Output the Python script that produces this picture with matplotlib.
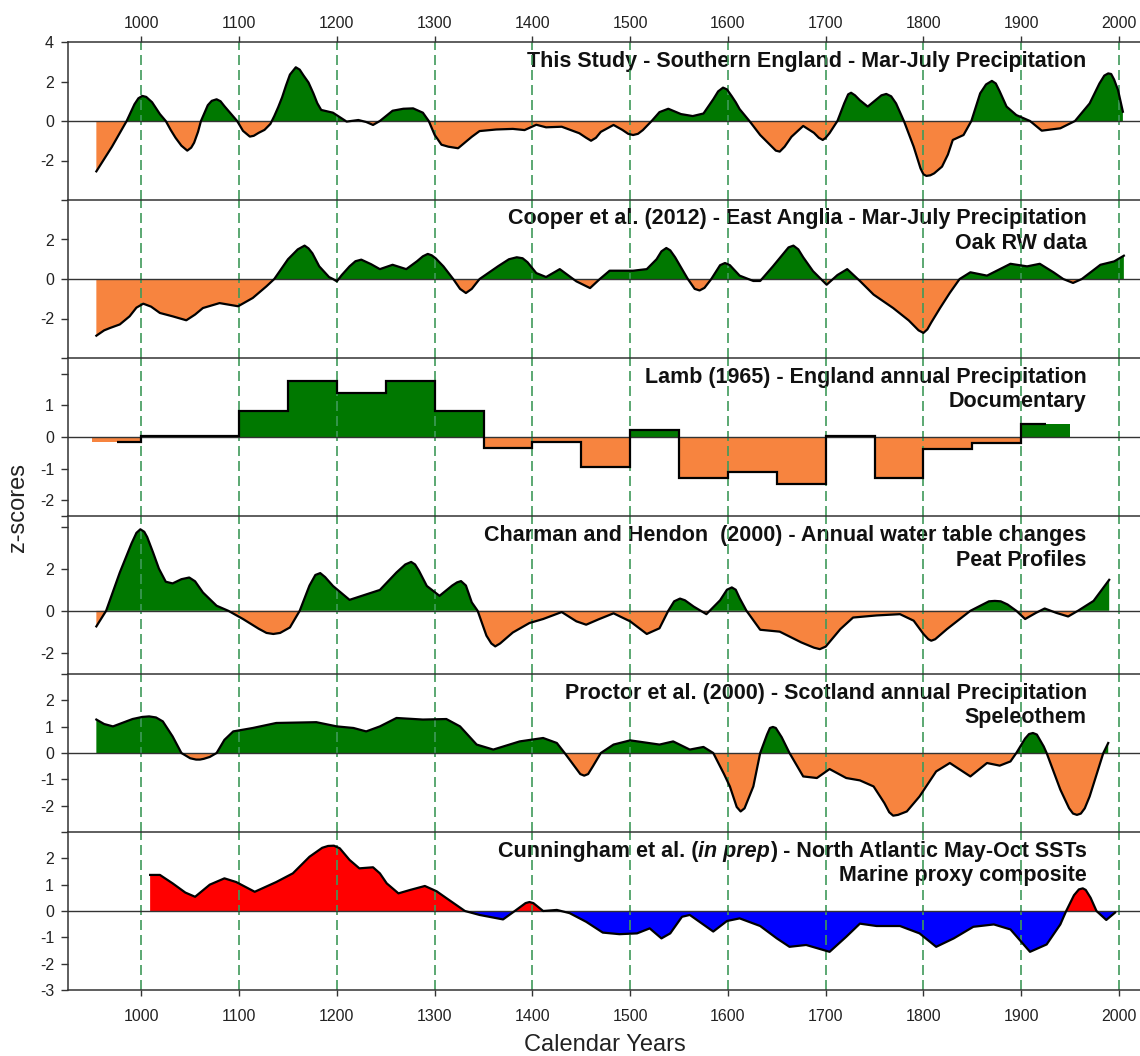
import numpy as np
import matplotlib
matplotlib.use('Agg')
import matplotlib.pyplot as plt
import matplotlib.transforms as mtransforms

plt.rcParams['font.family'] = ['Liberation Sans', 'DejaVu Sans']

# ---- data (year, z-score) ----
study_yr = [954, 970, 985, 993, 997, 1001, 1005, 1011, 1019, 1025, 1030, 1035, 1041, 1047, 1051,
            1054, 1058, 1061, 1068, 1072, 1077, 1081, 1085, 1091, 1098, 1104, 1111, 1115, 1120,
            1126, 1132, 1136, 1140, 1144, 1148, 1152, 1158, 1162, 1166, 1171, 1176, 1180, 1184,
            1196, 1210, 1222, 1230, 1237, 1244, 1257, 1268, 1278, 1288, 1294, 1300, 1307, 1314,
            1324, 1332, 1338, 1346, 1363, 1380, 1392, 1404, 1414, 1430, 1448, 1455, 1460, 1465,
            1470, 1483, 1492, 1498, 1503, 1508, 1513, 1522, 1530, 1539, 1552, 1564, 1575, 1585,
            1590, 1595, 1599, 1604, 1608, 1612, 1622, 1633, 1645, 1649, 1653, 1658, 1665, 1677,
            1688, 1693, 1697, 1700, 1704, 1712, 1719, 1723, 1726, 1730, 1735, 1743, 1752, 1757,
            1762, 1767, 1772, 1780, 1790, 1797, 1800, 1803, 1807, 1811, 1819, 1825, 1830, 1841,
            1849, 1858, 1864, 1870, 1874, 1878, 1885, 1895, 1909, 1921, 1940, 1955, 1970, 1980,
            1985, 1989, 1992, 1995, 1999, 2004]
study_z = [-2.55, -1.3, 0.0, 0.85, 1.15, 1.27, 1.22, 0.95, 0.35, 0.0, -0.45, -0.85, -1.25, -1.5, -1.35,
           -1.1, -0.55, 0.0, 0.8, 1.02, 1.1, 1.0, 0.75, 0.4, 0.0, -0.5, -0.79, -0.75, -0.6,
           -0.45, -0.15, 0.25, 0.7, 1.2, 1.8, 2.35, 2.72, 2.6, 2.3, 1.95, 1.4, 0.9, 0.56,
           0.42, -0.03, 0.05, -0.05, -0.2, 0.0, 0.52, 0.62, 0.64, 0.42, 0.0, -0.7, -1.2, -1.3,
           -1.38, -1.05, -0.8, -0.51, -0.43, -0.4, -0.46, -0.19, -0.32, -0.29, -0.62, -0.85, -1.0, -0.85,
           -0.55, -0.2, -0.45, -0.65, -0.71, -0.65, -0.46, 0.0, 0.45, 0.62, 0.35, 0.25, 0.38, 1.1,
           1.5, 1.69, 1.6, 1.25, 0.95, 0.6, 0.0, -0.71, -1.3, -1.5, -1.55, -1.3, -0.8, -0.25,
           -0.6, -0.85, -0.96, -0.85, -0.61, 0.0, 0.9, 1.35, 1.43, 1.3, 1.05, 0.73, 1.1, 1.3,
           1.37, 1.25, 0.89, 0.0, -1.3, -2.4, -2.7, -2.78, -2.75, -2.65, -2.31, -1.7, -0.96, -0.71,
           0.0, 1.4, 1.85, 2.03, 1.9, 1.5, 0.73, 0.3, 0.0, -0.49, -0.37, 0.0, 0.89, 1.9,
           2.3, 2.41, 2.38, 2.1, 1.57, 0.47]

cooper_yr = [954, 962, 968, 978, 988, 995, 1002, 1010, 1019, 1032, 1046, 1055, 1063, 1080, 1099,
             1114, 1128, 1136, 1150, 1160, 1167, 1171, 1175, 1182, 1192, 1196, 1200, 1205, 1213,
             1219, 1225, 1235, 1244, 1257, 1271, 1282, 1288, 1293, 1297, 1301, 1309, 1319, 1326,
             1332, 1338, 1346, 1365, 1376, 1384, 1390, 1395, 1404, 1414, 1428, 1445, 1459, 1469,
             1479, 1503, 1517, 1527, 1532, 1537, 1541, 1546, 1554, 1559, 1566, 1571, 1576, 1583,
             1592, 1597, 1602, 1612, 1626, 1633, 1646, 1657, 1662, 1667, 1672, 1677, 1687, 1701,
             1712, 1722, 1735, 1749, 1769, 1785, 1795, 1800, 1804, 1808, 1817, 1827, 1837, 1848,
             1865, 1889, 1906, 1919, 1933, 1943, 1953, 1962, 1981, 1995, 2005]
cooper_z = [-2.87, -2.6, -2.48, -2.3, -1.89, -1.45, -1.25, -1.4, -1.72, -1.89, -2.09, -1.8, -1.47, -1.22, -1.38,
            -0.96, -0.37, 0.0, 1.0, 1.5, 1.69, 1.55, 1.3, 0.64, 0.1, 0.0, -0.12, 0.2, 0.64,
            0.9, 0.98, 0.75, 0.5, 0.72, 0.5, 0.9, 1.15, 1.27, 1.2, 1.05, 0.64, 0.0, -0.5,
            -0.71, -0.5, 0.0, 0.65, 1.0, 1.1, 1.05, 0.85, 0.3, 0.1, 0.5, -0.12, -0.46, 0.0,
            0.42, 0.42, 0.5, 1.0, 1.4, 1.57, 1.45, 1.1, 0.42, 0.0, -0.5, -0.58, -0.45, 0.0,
            0.7, 0.81, 0.7, 0.17, -0.1, -0.1, 0.64, 1.3, 1.6, 1.69, 1.5, 1.1, 0.4, -0.29,
            0.2, 0.5, -0.1, -0.79, -1.47, -2.1, -2.6, -2.73, -2.55, -2.2, -1.47, -0.7, 0.0, 0.34,
            0.17, 0.77, 0.64, 0.77, 0.34, 0.0, -0.2, 0.0, 0.72, 0.89, 1.18]

# Lamb (1965): 50-year means, bin start years
lamb_start = [950, 1000, 1050, 1100, 1150, 1200, 1250, 1300, 1350, 1400, 1450, 1500, 1550,
              1600, 1650, 1700, 1750, 1800, 1850, 1900]
lamb_z = [-0.17, 0.03, 0.03, 0.82, 1.77, 1.4, 1.77, 0.82, -0.34, -0.16, -0.94, 0.22, -1.31,
          -1.12, -1.5, 0.03, -1.31, -0.39, -0.18, 0.42]
lamb_line_from, lamb_line_to = 975, 1925

charman_yr = [954, 964, 978, 990, 995, 999, 1003, 1006, 1012, 1018, 1025, 1032, 1041, 1049, 1055,
              1063, 1077, 1089, 1104, 1120, 1128, 1135, 1142, 1152, 1162, 1172, 1178, 1183, 1188,
              1196, 1213, 1244, 1261, 1270, 1276, 1280, 1284, 1292, 1305, 1318, 1323, 1327, 1332,
              1338, 1344, 1353, 1358, 1362, 1367, 1380, 1397, 1411, 1430, 1445, 1455, 1468, 1483,
              1500, 1517, 1530, 1539, 1545, 1551, 1556, 1565, 1578, 1592, 1599, 1604, 1608, 1612,
              1619, 1633, 1653, 1675, 1688, 1694, 1700, 1715, 1728, 1752, 1776, 1790, 1800, 1805,
              1808, 1812, 1824, 1848, 1867, 1873, 1879, 1886, 1895, 1904, 1915, 1924, 1936, 1948,
              1958, 1974, 1990]
charman_z = [-0.74, 0.0, 1.82, 3.2, 3.7, 3.87, 3.75, 3.5, 2.77, 2.0, 1.38, 1.3, 1.5, 1.58, 1.4,
             0.87, 0.24, 0.0, -0.39, -0.85, -1.05, -1.1, -1.05, -0.79, 0.0, 1.2, 1.7, 1.79, 1.6,
             1.18, 0.52, 0.99, 1.82, 2.2, 2.32, 2.2, 1.9, 1.18, 0.71, 1.2, 1.35, 1.41, 1.2,
             0.4, 0.0, -1.18, -1.55, -1.69, -1.55, -1.03, -0.58, -0.39, -0.06, -0.5, -0.66, -0.4, -0.12,
             -0.5, -1.1, -0.83, 0.0, 0.45, 0.58, 0.5, 0.2, -0.16, 0.5, 1.0, 1.11, 1.0, 0.6,
             0.0, -0.9, -0.99, -1.5, -1.75, -1.82, -1.7, -0.87, -0.32, -0.22, -0.16, -0.47, -1.1, -1.35,
             -1.42, -1.35, -0.87, 0.0, 0.45, 0.47, 0.45, 0.3, 0.0, -0.39, -0.1, 0.11, -0.1, -0.27,
             0.0, 0.47, 1.47]

proctor_yr = [954, 962, 971, 981, 991, 1001, 1008, 1015, 1022, 1032, 1041, 1050, 1056, 1060, 1064,
              1070, 1077, 1085, 1094, 1114, 1138, 1179, 1200, 1217, 1230, 1244, 1261, 1288, 1312,
              1326, 1343, 1360, 1387, 1411, 1425, 1433, 1443, 1449, 1453, 1457, 1462, 1470, 1483,
              1500, 1530, 1544, 1561, 1575, 1585, 1596, 1602, 1609, 1613, 1617, 1626, 1633, 1640,
              1643, 1646, 1649, 1655, 1663, 1677, 1691, 1704, 1721, 1735, 1749, 1760, 1765, 1769,
              1774, 1783, 1796, 1813, 1827, 1848, 1865, 1878, 1889, 1895, 1904, 1908, 1912, 1916,
              1923, 1926, 1940, 1949, 1953, 1957, 1961, 1965, 1970, 1984, 1989]
proctor_z = [1.27, 1.1, 1.01, 1.15, 1.29, 1.37, 1.39, 1.35, 1.2, 0.63, 0.0, -0.2, -0.25, -0.25, -0.22,
             -0.15, 0.0, 0.5, 0.82, 0.95, 1.14, 1.17, 1.01, 0.95, 0.82, 1.01, 1.33, 1.27, 1.29,
             1.01, 0.32, 0.13, 0.44, 0.57, 0.38, 0.0, -0.5, -0.8, -0.86, -0.8, -0.5, 0.0, 0.32,
             0.48, 0.32, 0.44, 0.13, 0.23, 0.0, -0.8, -1.27, -2.05, -2.22, -2.1, -1.27, 0.0, 0.7,
             0.95, 0.99, 0.95, 0.6, 0.0, -0.89, -0.95, -0.61, -0.95, -1.04, -1.27, -1.9, -2.25, -2.38,
             -2.35, -2.22, -1.65, -0.7, -0.38, -0.89, -0.38, -0.48, -0.32, 0.0, 0.55, 0.72, 0.76, 0.7,
             0.25, 0.0, -1.39, -2.1, -2.3, -2.35, -2.3, -2.1, -1.65, 0.0, 0.38]

cunn_yr = [1009, 1019, 1032, 1045, 1055, 1070, 1085, 1097, 1116, 1138, 1155, 1172, 1185, 1191,
           1197, 1203, 1213, 1223, 1237, 1244, 1251, 1263, 1275, 1290, 1302, 1312, 1331, 1346,
           1370, 1382, 1393, 1397, 1401, 1411, 1425, 1438, 1455, 1472, 1489, 1507, 1520, 1532,
           1541, 1553, 1561, 1585, 1599, 1612, 1633, 1650, 1663, 1680, 1704, 1721, 1735, 1752,
           1776, 1796, 1813, 1831, 1851, 1872, 1889, 1909, 1926, 1940, 1946, 1954, 1959, 1963,
           1966, 1971, 1977, 1987, 1996]
cunn_z = [1.37, 1.37, 1.05, 0.7, 0.54, 1.0, 1.24, 1.1, 0.73, 1.1, 1.43, 2.06, 2.4, 2.47,
          2.48, 2.38, 1.94, 1.62, 1.66, 1.43, 1.05, 0.67, 0.8, 0.95, 0.75, 0.49, 0.0, -0.15,
          -0.32, 0.0, 0.3, 0.34, 0.3, 0.0, 0.04, -0.08, -0.41, -0.82, -0.88, -0.85, -0.66, -1.04,
          -0.85, -0.22, -0.15, -0.78, -0.38, -0.28, -0.57, -1.04, -1.36, -1.29, -1.55, -0.98, -0.48, -0.57,
          -0.57, -0.85, -1.36, -1.04, -0.6, -0.51, -0.7, -1.55, -1.27, -0.51, 0.0, 0.6, 0.82, 0.86,
          0.8, 0.5, 0.0, -0.34, -0.06]

GREEN = '#007800'
ORANGE = '#f7843f'
RED = '#ff0000'
BLUE = '#0000ff'
GRID = '#3f9a5a'
SPINE = '#333333'

W, H = 1140, 1056
fig = plt.figure(figsize=(W / 100, H / 100), dpi=100)

left_px, top_px, bot_px = 68, 42, 990
ph = (bot_px - top_px) / 6.0
TITLE_X = 1967


def make_axes(i):
    y0 = 1 - (top_px + (i + 1) * ph) / H
    ax = fig.add_axes([left_px / W, y0, 1 - left_px / W, ph / H])
    ax.set_xlim(925, 2021.5)
    ax.set_xticks(range(1000, 2001, 100))
    for s in ['left', 'top', 'bottom']:
        ax.spines[s].set_color(SPINE)
        ax.spines[s].set_linewidth(1.1)
    ax.spines['right'].set_visible(False)
    if i != 5:
        ax.spines['bottom'].set_visible(False)
    ax.tick_params(axis='y', direction='out', length=5, width=1, color=SPINE,
                   labelsize=11.5, pad=5, labelcolor='#222222')
    ax.tick_params(axis='x', direction='out', length=4, width=1, color=SPINE,
                   labelsize=11.5, labelcolor='#222222', top=False, labeltop=False,
                   bottom=False, labelbottom=False)
    for yr in range(1000, 2001, 100):
        ax.axvline(yr, color=GRID, lw=1.2, ls=(0, (6, 3)), zorder=2)
    ax.axhline(0, color=SPINE, lw=1.0, zorder=2.5)
    return ax


def smooth(ax, yrs, vals, pos, neg):
    yrs = np.array(yrs, dtype=float)
    vals = np.array(vals, dtype=float)
    ax.fill_between(yrs, vals, 0, where=vals >= 0, interpolate=True, color=pos, lw=0, zorder=1)
    ax.fill_between(yrs, vals, 0, where=vals <= 0, interpolate=True, color=neg, lw=0, zorder=1)
    ax.plot(yrs, vals, color='k', lw=1.6, zorder=3, solid_joinstyle='round')


def title(ax, line1, line2=None):
    tr = mtransforms.blended_transform_factory(ax.transData, ax.transAxes)
    kw = dict(transform=tr, ha='right', va='center', fontsize=15.5, fontweight='bold',
              color='#111111', zorder=1.5)
    ax.text(TITLE_X, 1 - 19 / ph, line1, **kw)
    if line2:
        ax.text(TITLE_X, 1 - 44 / ph, line2, **kw)


def set_y(ax, lim, ticks, labels):
    ax.set_ylim(*lim)
    ax.set_yticks(ticks)
    ax.set_yticklabels(labels)


# 1 - this study
ax1 = make_axes(0)
smooth(ax1, study_yr, study_z, GREEN, ORANGE)
set_y(ax1, (-4, 4), [4, 2, 0, -2, -4], ['4', '2', '0', '-2', ''])
ax1.tick_params(axis='x', top=True, labeltop=True, pad=4)
title(ax1, 'This Study - Southern England - Mar-July Precipitation')

# 2 - Cooper
ax2 = make_axes(1)
smooth(ax2, cooper_yr, cooper_z, GREEN, ORANGE)
set_y(ax2, (-4, 4), [2, 0, -2, -4], ['2', '0', '-2', ''])
title(ax2, 'Cooper et al. (2012) - East Anglia - Mar-July Precipitation', 'Oak RW data')

# 3 - Lamb
ax3 = make_axes(2)
cols = [GREEN if v > 0 else ORANGE for v in lamb_z]
ax3.bar(lamb_start, lamb_z, width=50, align='edge', color=cols, lw=0, zorder=1)
edges = [lamb_line_from] + lamb_start[1:] + [lamb_line_to]
ax3.stairs(lamb_z, edges, baseline=None, color='k', lw=1.6, zorder=3)
set_y(ax3, (-2.5, 2.5), [2, 1, 0, -1, -2, -2.5], ['', '1', '0', '-1', '-2', ''])
title(ax3, 'Lamb (1965) - England annual Precipitation', 'Documentary')

# 4 - Charman and Hendon
ax4 = make_axes(3)
smooth(ax4, charman_yr, charman_z, GREEN, ORANGE)
set_y(ax4, (-3, 4.5), [4, 2, 0, -2, -3], ['', '2', '0', '-2', ''])
title(ax4, 'Charman and Hendon  (2000) - Annual water table changes', 'Peat Profiles')

# 5 - Proctor
ax5 = make_axes(4)
smooth(ax5, proctor_yr, proctor_z, GREEN, ORANGE)
set_y(ax5, (-3, 3), [2, 1, 0, -1, -2, -3], ['2', '1', '0', '-1', '-2', ''])
title(ax5, 'Proctor et al. (2000) - Scotland annual Precipitation', 'Speleothem')

# 6 - Cunningham
ax6 = make_axes(5)
smooth(ax6, cunn_yr, cunn_z, RED, BLUE)
set_y(ax6, (-3, 3), [2, 1, 0, -1, -2, -3], ['2', '1', '0', '-1', '-2', '-3'])
ax6.tick_params(axis='x', bottom=True, labelbottom=True, pad=10)
tr6 = mtransforms.blended_transform_factory(ax6.transData, ax6.transAxes)
tkw = dict(fontsize=15.5, fontweight='bold', color='#111111', zorder=1.5)
t_c = ax6.text(TITLE_X, 1 - 19 / ph, ') - North Atlantic May-Oct SSTs', transform=tr6,
               ha='right', va='center', **tkw)
t_b = ax6.annotate('in prep', xy=(0, 0), xycoords=t_c, ha='right', va='bottom',
                   fontstyle='italic', **tkw)
ax6.annotate('Cunningham et al. (', xy=(0, 0), xycoords=t_b, ha='right', va='bottom', **tkw)
ax6.text(TITLE_X, 1 - 44 / ph, 'Marine proxy composite', transform=tr6,
         ha='right', va='center', **tkw)

fig.text(18 / W, 1 - 507 / H, 'z-scores', rotation=90, ha='center', va='center',
         fontsize=17, color='#222222')
fig.text(605 / W, 1 - 1045 / H, 'Calendar Years', ha='center', va='center',
         fontsize=17, color='#222222')

fig.savefig('out.png', dpi=100)
